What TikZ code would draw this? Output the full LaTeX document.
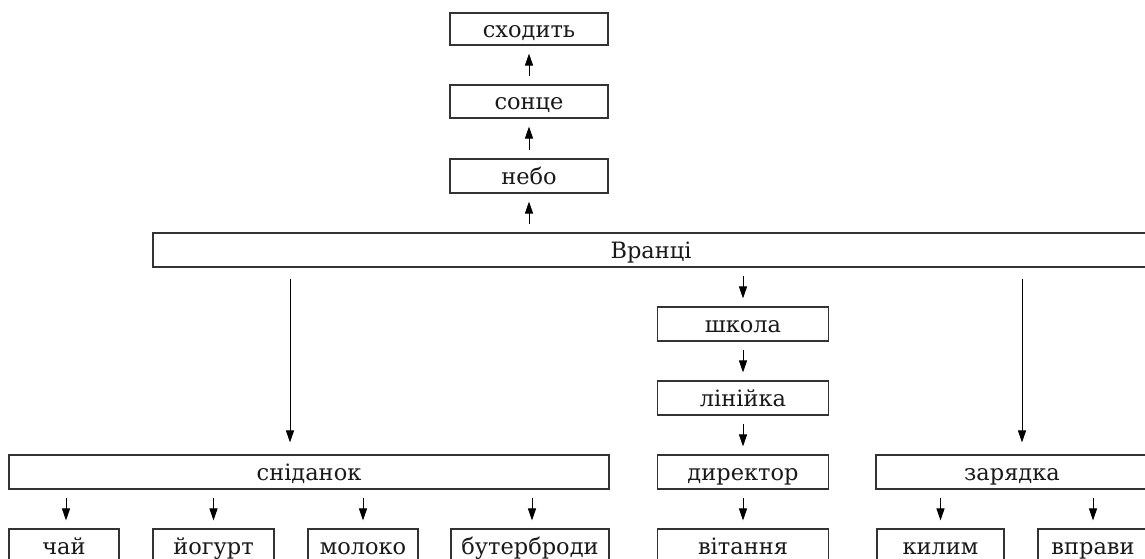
\documentclass[tikz,border=0pt]{standalone}
\usepackage{fontspec}
\setmainfont{DejaVu Serif}
\usetikzlibrary{arrows.meta}
\definecolor{boxline}{HTML}{333333}
\tikzset{
  box/.style={draw=boxline, line width=1.1pt, inner sep=0pt, font=\fontsize{22.5}{26}\selectfont, text=black!90, text height=18pt, text depth=2pt},
  arr/.style={draw=black, line width=1pt, -{Triangle[length=12pt,width=8pt]}},
}
\begin{document}
\begin{tikzpicture}[x=1pt,y=-1pt]
\clip (0,0) rectangle (1145,558);
\fill[white] (0,0) rectangle (1145,558);
% top column
\node[box, minimum width=158pt, minimum height=32pt] (sh) at (529,29) {сходить};
\node[box, minimum width=158pt, minimum height=33pt] (so) at (529,101.5) {сонце};
\node[box, minimum width=158pt, minimum height=34pt] (ne) at (529,176) {небо};
\node[box, minimum width=996pt, minimum height=34pt] (vr) at (651,250) {Вранці};
% middle column
\node[box, minimum width=171pt, minimum height=34pt] (sk) at (743,324) {школа};
\node[box, minimum width=171pt, minimum height=34pt] (li) at (743,398) {лінійка};
\node[box, minimum width=171pt, minimum height=34pt] (di) at (743,472) {директор};
\node[box, minimum width=171pt, minimum height=34pt] (vi) at (743,546) {вітання};
% left
\node[box, minimum width=600pt, minimum height=34pt] (sn) at (309,472) {сніданок};
\node[box, minimum width=110pt, minimum height=34pt] (ch) at (64,546) {чай};
\node[box, minimum width=121pt, minimum height=34pt] (yo) at (213.5,546) {йогурт};
\node[box, minimum width=110pt, minimum height=34pt] (mo) at (363,546) {молоко};
\node[box, minimum width=158pt, minimum height=34pt] (bu) at (530,546) {бутерброди};
% right
\node[box, minimum width=272pt, minimum height=34pt] (za) at (1012,472) {зарядка};
\node[box, minimum width=127pt, minimum height=34pt] (ki) at (940.5,546) {килим};
\node[box, minimum width=110pt, minimum height=34pt] (vp) at (1093,546) {вправи};
% arrows up
\draw[arr, shorten <=8pt, shorten >=8pt] (ne.north) -- (so.south);
\draw[arr, shorten <=8pt, shorten >=8pt] (so.north) -- (sh.south);
\draw[arr, shorten <=8pt, shorten >=8pt] (vr.north -| ne.north) -- (ne.south);
% from Вранці
\draw[arr, shorten <=11pt, shorten >=12pt] (vr.south -| 290,0) -- (sn.north -| 290,0);
\draw[arr, shorten <=8pt, shorten >=8pt] (vr.south -| sk.north) -- (sk.north);
\draw[arr, shorten <=11pt, shorten >=12pt] (vr.south -| 1022,0) -- (za.north -| 1022,0);
% middle chain
\draw[arr, shorten <=8pt, shorten >=8pt] (sk.south) -- (li.north);
\draw[arr, shorten <=8pt, shorten >=8pt] (li.south) -- (di.north);
\draw[arr, shorten <=8pt, shorten >=8pt] (di.south) -- (vi.north);
% from сніданок
\draw[arr, shorten <=8pt, shorten >=8pt] (sn.south -| 66,0) -- (ch.north -| 66,0);
\draw[arr, shorten <=8pt, shorten >=8pt] (sn.south -| yo.north) -- (yo.north);
\draw[arr, shorten <=8pt, shorten >=8pt] (sn.south -| mo.north) -- (mo.north);
\draw[arr, shorten <=8pt, shorten >=8pt] (sn.south -| 532,0) -- (bu.north -| 532,0);
% from зарядка
\draw[arr, shorten <=8pt, shorten >=8pt] (za.south -| ki.north) -- (ki.north);
\draw[arr, shorten <=8pt, shorten >=8pt] (za.south -| vp.north) -- (vp.north);
\end{tikzpicture}
\end{document}
